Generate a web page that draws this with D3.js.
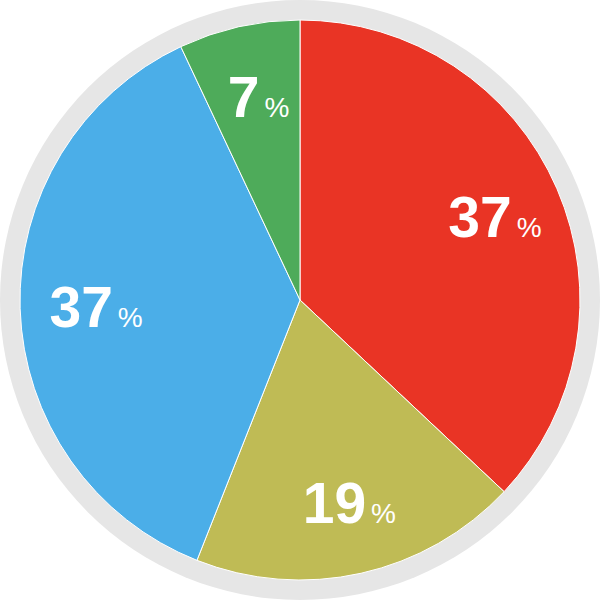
<!DOCTYPE html>
<html>
<head>
<meta charset="utf-8">
<script src="https://cdn.jsdelivr.net/npm/d3@7"></script>
<style>
html,body{margin:0;padding:0;background:#fff;}
svg{display:block;}
</style>
</head>
<body>
<svg id="chart" width="600" height="600"></svg>
<script>
const categories = ["Red", "Olive", "Blue", "Green"];
const values = [37, 19, 37, 7];
const colors = ["#E93425", "#BFBB55", "#4BAEE8", "#4EAB5A"];

const W = 600, H = 600;
const cx = W / 2, cy = H / 2;
const ringR = 300, pieR = 280, labelR = 208;

const svg = d3.select("#chart");
const g = svg.append("g").attr("transform", `translate(${cx},${cy})`);

g.append("circle").attr("r", ringR).attr("fill", "#E6E6E6");

const data = categories.map((c, i) => ({ cat: c, value: values[i], color: colors[i] }));
const pie = d3.pie().value(d => d.value).sort(null);
const arcs = pie(data);
const arc = d3.arc().innerRadius(0).outerRadius(pieR);
const labelArc = d3.arc().innerRadius(labelR).outerRadius(labelR);

g.selectAll("path.slice").data(arcs).enter().append("path")
  .attr("class", "slice")
  .attr("d", arc)
  .attr("fill", d => d.data.color)
  .attr("stroke", "#fff")
  .attr("stroke-width", 1);

const labels = g.selectAll("text.lbl").data(arcs).enter().append("text")
  .attr("class", "lbl")
  .attr("transform", d => { const [x, y] = labelArc.centroid(d); return `translate(${x + 4},${y + 20})`; })
  .attr("text-anchor", "middle")
  .attr("fill", "#fff")
  .style("font-family", "'Liberation Sans', Arial, Helvetica, sans-serif");

labels.append("tspan").style("font-size", "57px").style("font-weight", "bold").text(d => d.data.value);
labels.append("tspan").attr("dx", 5).style("font-size", "28px").style("font-weight", "normal").text("%");
</script>
</body>
</html>
